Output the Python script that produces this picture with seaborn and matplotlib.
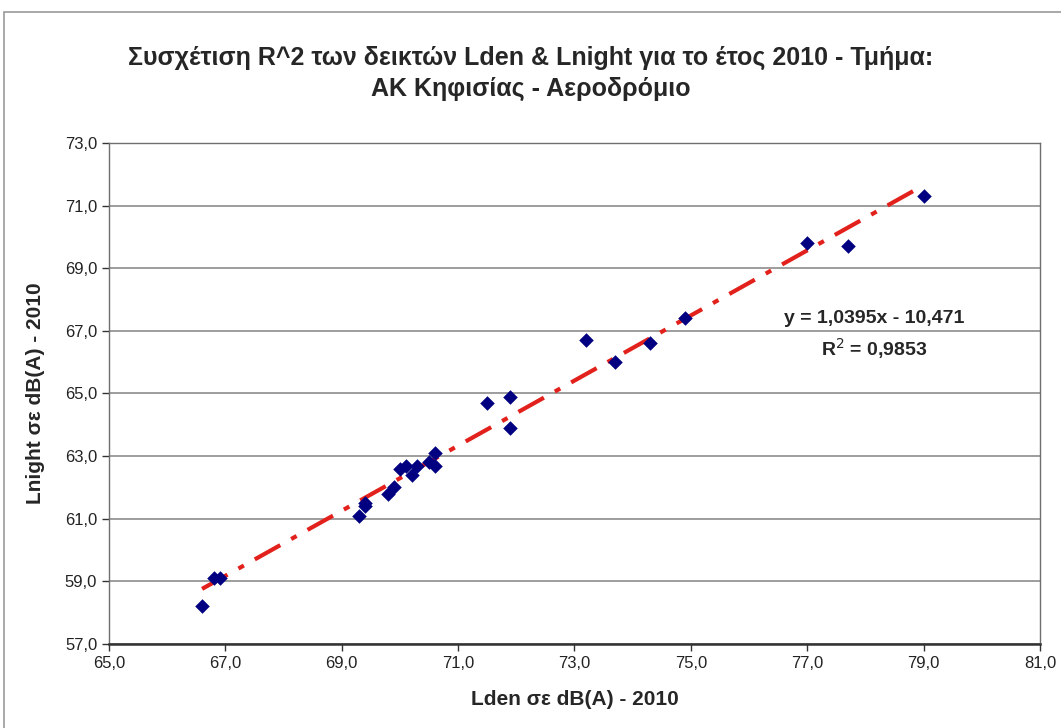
import numpy as np
import pandas as pd
import matplotlib
matplotlib.use("Agg")
import matplotlib.pyplot as plt
import seaborn as sns
from matplotlib.ticker import FuncFormatter
from matplotlib.patches import Rectangle

# Values
lden = [66.6, 66.8, 66.9, 69.3, 69.4, 69.4, 69.8, 69.9, 70.0, 70.1, 70.2,
        70.3, 70.5, 70.6, 70.6, 71.5, 71.9, 71.9, 73.2, 73.7, 74.3, 74.9,
        77.0, 77.7, 79.0]
lnight = [58.2, 59.1, 59.1, 61.1, 61.4, 61.5, 61.8, 62.0, 62.6, 62.7, 62.4,
          62.7, 62.8, 63.1, 62.7, 64.7, 64.9, 63.9, 66.7, 66.0, 66.6, 67.4,
          69.8, 69.7, 71.3]
slope = 1.0395
intercept = -10.471
r_squared = 0.9853
x_ticks = [65, 67, 69, 71, 73, 75, 77, 79, 81]
y_ticks = [57, 59, 61, 63, 65, 67, 69, 71, 73]

df = pd.DataFrame({"Lden": lden, "Lnight": lnight})

sns.set_style("white")
plt.rcParams["font.family"] = ["Liberation Sans Narrow", "Liberation Sans", "DejaVu Sans"]

fig = plt.figure(figsize=(10.61, 7.28), dpi=100)
ax = fig.add_axes([0.1027, 0.1154, 0.8775, 0.6882])

# outer chart border
fig.patches.append(Rectangle((0.004, -0.02), 1.2, 1.003, transform=fig.transFigure,
                             fill=False, edgecolor="#9a9a9a", linewidth=1.2))

# trendline
x_fit = np.array([min(lden), max(lden)])
ax.plot(x_fit, slope * x_fit + intercept, color="#e3211c", linewidth=3,
        dashes=(7, 3, 1.5, 3), zorder=2)

sns.scatterplot(data=df, x="Lden", y="Lnight", marker="D", color="#000080",
                s=55, edgecolor="#000080", linewidth=0, ax=ax, zorder=3)

ax.set_xlim(65, 81)
ax.set_ylim(57, 73)
ax.set_xticks(x_ticks)
ax.set_yticks(y_ticks)
fmt = FuncFormatter(lambda v, p: f"{v:.1f}".replace(".", ","))
ax.xaxis.set_major_formatter(fmt)
ax.yaxis.set_major_formatter(fmt)
ax.yaxis.grid(True, color="#8c8c8c", linewidth=1.2)
ax.set_axisbelow(True)

for side in ["top", "right", "left"]:
    ax.spines[side].set_color("#6e6e6e")
    ax.spines[side].set_linewidth(1.0)
ax.spines["bottom"].set_color("#333333")
ax.spines["bottom"].set_linewidth(1.8)

ax.tick_params(axis="both", direction="out", length=5, width=1, color="#333333",
               labelsize=12, labelcolor="#222222", bottom=True, left=True)

ax.set_xlabel("Lden σε dB(A) - 2010", fontsize=15, fontweight="bold", labelpad=14)
ax.set_ylabel("Lnight σε dB(A) - 2010", fontsize=15, fontweight="bold", labelpad=14)

fig.text(0.5, 0.899, "Συσχέτιση R^2 των δεικτών Lden & Lnight για το έτος 2010 - Τμήμα:\nΑΚ Κηφισίας - Αεροδρόμιο",
         ha="center", va="center", fontsize=18, fontweight="bold", linespacing=1.35)

ax.text(78.15, 67.4, f"y = {slope:.4f}x - {abs(intercept):.3f}".replace(".", ","),
        ha="center", va="center", fontsize=14, fontweight="bold")
ax.text(78.15, 66.45, f"R$^2$ = {r_squared:.4f}".replace(".", ","),
        ha="center", va="center", fontsize=14, fontweight="bold")

fig.savefig("out.png", dpi=100)
